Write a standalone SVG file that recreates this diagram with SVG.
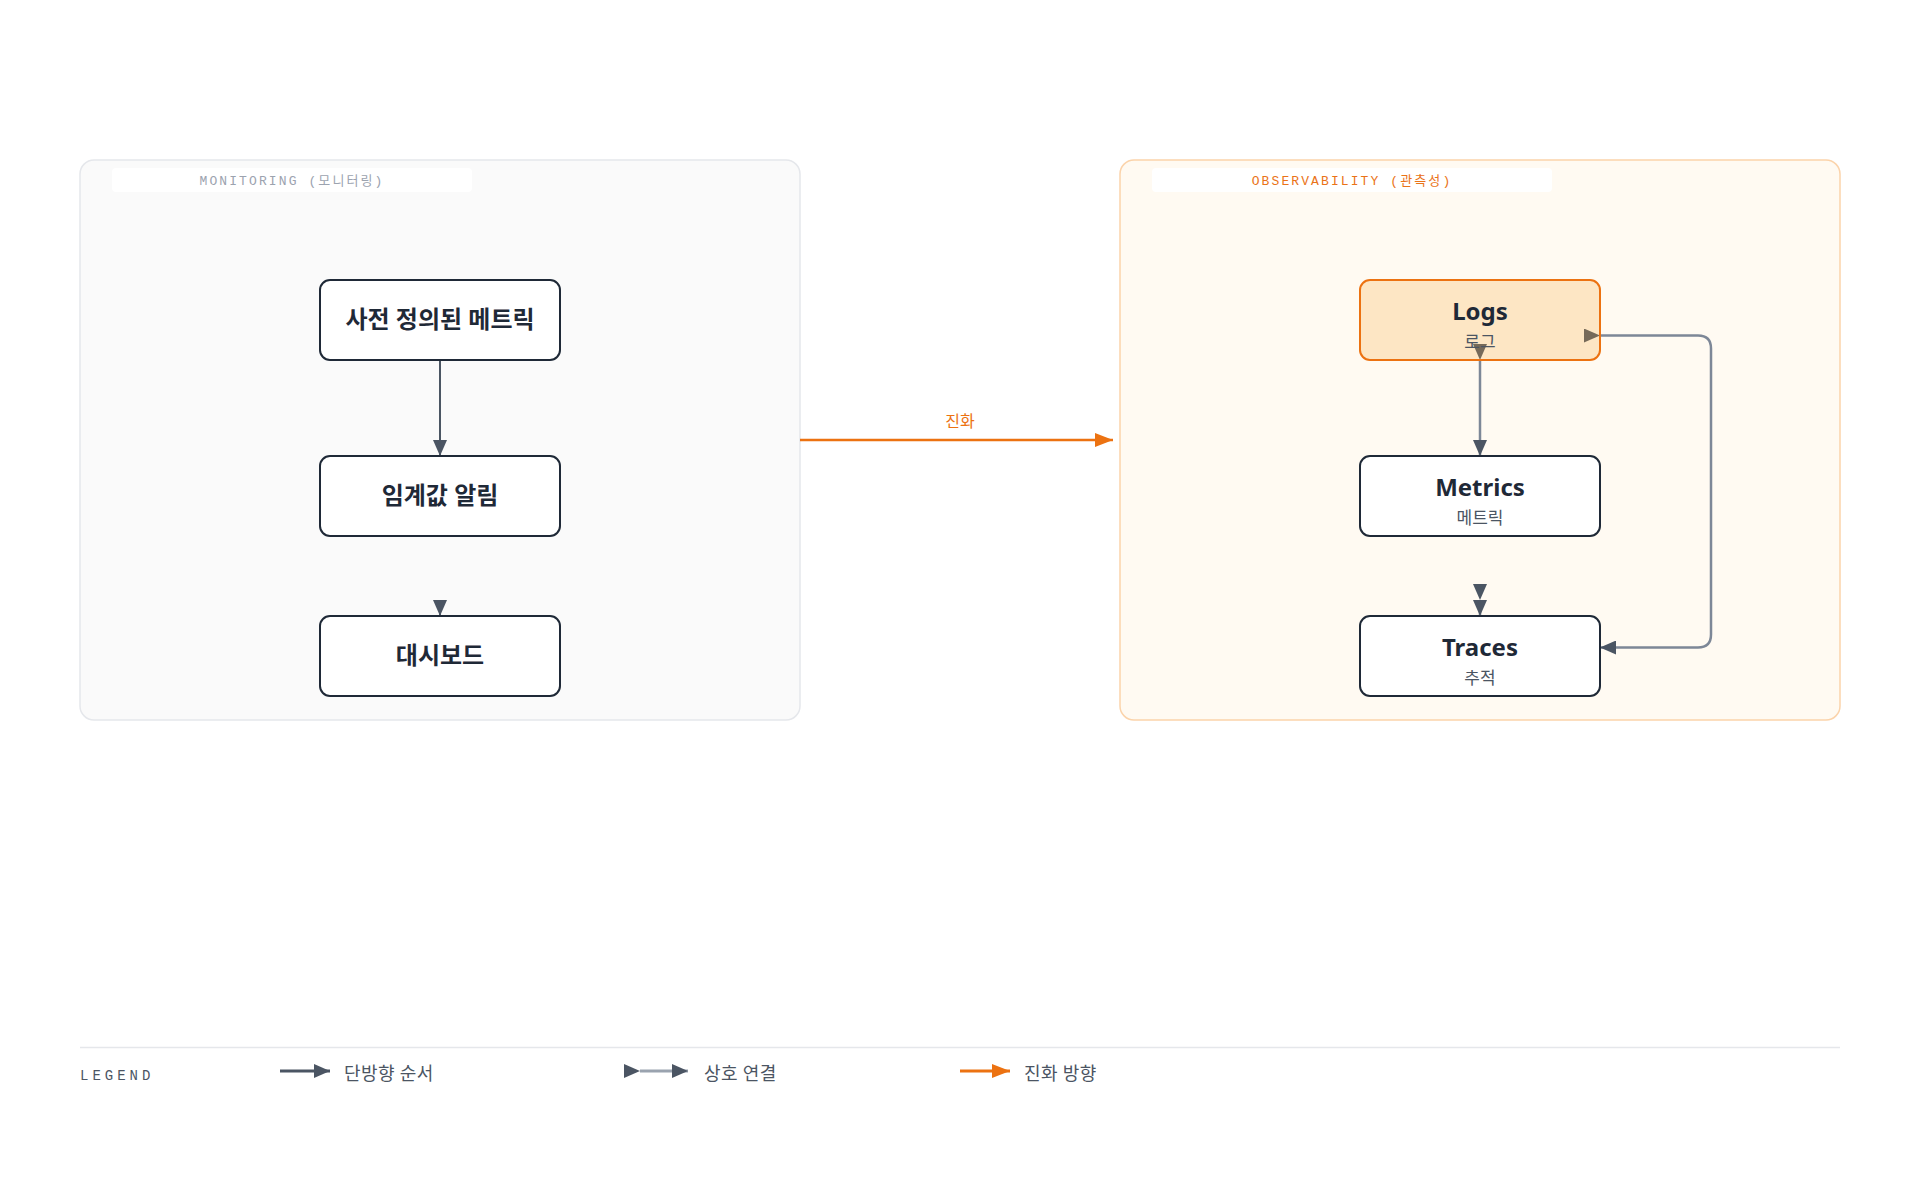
<svg xmlns="http://www.w3.org/2000/svg" width="1920" height="1200" viewBox="0 0 1920 1200">
<style>
.title{font-family:"Noto Sans","Noto Sans CJK KR",sans-serif;font-weight:700;font-size:24px;fill:#1f2937;text-anchor:middle}
.sub{font-family:"Noto Sans CJK KR","Noto Sans",sans-serif;font-size:17px;fill:#4b5563;text-anchor:middle}
.grp{font-family:"Liberation Mono","Noto Sans CJK KR",monospace;font-size:13px;letter-spacing:2.1px;text-anchor:middle}
.node{fill:#ffffff;stroke:#1f2937;stroke-width:2}
.leg{font-family:"Noto Sans CJK KR","Noto Sans",sans-serif;font-size:18px;letter-spacing:0.5px;fill:#4b5563}
.one{fill:none;stroke:#4b5563;stroke-width:2}
.bi{fill:none;stroke:#7d8797;stroke-width:2.5}
.evo{fill:none;stroke:#ec7211;stroke-width:2.5}
</style>
<defs>
<marker id="ag" markerUnits="userSpaceOnUse" markerWidth="16" markerHeight="14" refX="16" refY="7" orient="auto"><path d="M0,0 L16,7 L0,14 z" fill="#4b5563"/></marker>
<marker id="ao" markerUnits="userSpaceOnUse" markerWidth="18" markerHeight="14" refX="18" refY="7" orient="auto"><path d="M0,0 L18,7 L0,14 z" fill="#ec7211"/></marker>
</defs>
<rect width="1920" height="1200" fill="#ffffff"/>

<g id="group-monitoring">
<rect x="80" y="160" width="720" height="560" rx="14" fill="#fafafa" stroke="#e5e7eb" stroke-width="1.5"/>
<rect x="112" y="168" width="360" height="24" rx="4" fill="#ffffff"/>
<text class="grp" x="292" y="185" fill="#9ca3af">MONITORING (모니터링)</text>
</g>
<g id="group-observability">
<rect x="1120" y="160" width="720" height="560" rx="14" fill="#fffaf2" stroke="#fbd3aa" stroke-width="1.5"/>
<rect x="1152" y="168" width="400" height="24" rx="4" fill="#ffffff"/>
<text class="grp" x="1352" y="185" fill="#ea7317">OBSERVABILITY (관측성)</text>
</g>

<g id="connectors">
<path class="one" d="M440 360 V456" marker-end="url(#ag)"/>
<path class="one" d="M440 600 V616" marker-end="url(#ag)"/>
<path class="evo" d="M800 440 H1113" marker-end="url(#ao)"/>
<text x="960" y="427" font-family="Noto Sans CJK KR,sans-serif" font-size="16" fill="#ec7211" text-anchor="middle">진화</text>
<path class="bi" d="M1480 360 V456" marker-start="url(#ag)" marker-end="url(#ag)"/>
<path class="bi" d="M1480 600 V616" marker-start="url(#ag)" marker-end="url(#ag)"/>
<path class="bi" d="M1600 335.5 H1698 Q1711 335.5 1711 348.5 V634.5 Q1711 647.5 1698 647.5 H1600" marker-start="url(#ag)" marker-end="url(#ag)"/>
</g>

<g id="node-predefined">
<rect class="node" x="320" y="280" width="240" height="80" rx="10"/>
<text class="title" x="440" y="328">사전 정의된 메트릭</text>
</g>
<g id="node-threshold">
<rect class="node" x="320" y="456" width="240" height="80" rx="10"/>
<text class="title" x="440" y="504">임계값 알림</text>
</g>
<g id="node-dashboard">
<rect class="node" x="320" y="616" width="240" height="80" rx="10"/>
<text class="title" x="440" y="664">대시보드</text>
</g>

<g id="node-logs">
<rect x="1360" y="280" width="240" height="80" rx="10" fill="rgba(247,170,58,0.25)" stroke="#ec7211" stroke-width="2"/>
<text class="title" x="1480" y="320">Logs</text>
<text class="sub" x="1480" y="348">로그</text>
</g>
<g id="node-metrics">
<rect class="node" x="1360" y="456" width="240" height="80" rx="10"/>
<text class="title" x="1480" y="496">Metrics</text>
<text class="sub" x="1480" y="524">메트릭</text>
</g>
<g id="node-traces">
<rect class="node" x="1360" y="616" width="240" height="80" rx="10"/>
<text class="title" x="1480" y="656">Traces</text>
<text class="sub" x="1480" y="684">추적</text>
</g>

<g id="legend">
<line x1="80" y1="1047.5" x2="1840" y2="1047.5" stroke="#e5e7eb" stroke-width="1.5"/>
<text x="80" y="1080" font-family="Liberation Mono,monospace" font-size="14" letter-spacing="4" fill="#4b5563">LEGEND</text>
<path d="M280 1071 H330" fill="none" stroke="#4b5563" stroke-width="3" marker-end="url(#ag)"/>
<text class="leg" x="344" y="1080">단방향 순서</text>
<path d="M640 1071 H688" fill="none" stroke="#9aa3af" stroke-width="3" marker-start="url(#ag)" marker-end="url(#ag)"/>
<text class="leg" x="704" y="1080">상호 연결</text>
<path d="M960 1071 H1010" fill="none" stroke="#ec7211" stroke-width="3" marker-end="url(#ao)"/>
<text class="leg" x="1024" y="1080">진화 방향</text>
</g>
</svg>
